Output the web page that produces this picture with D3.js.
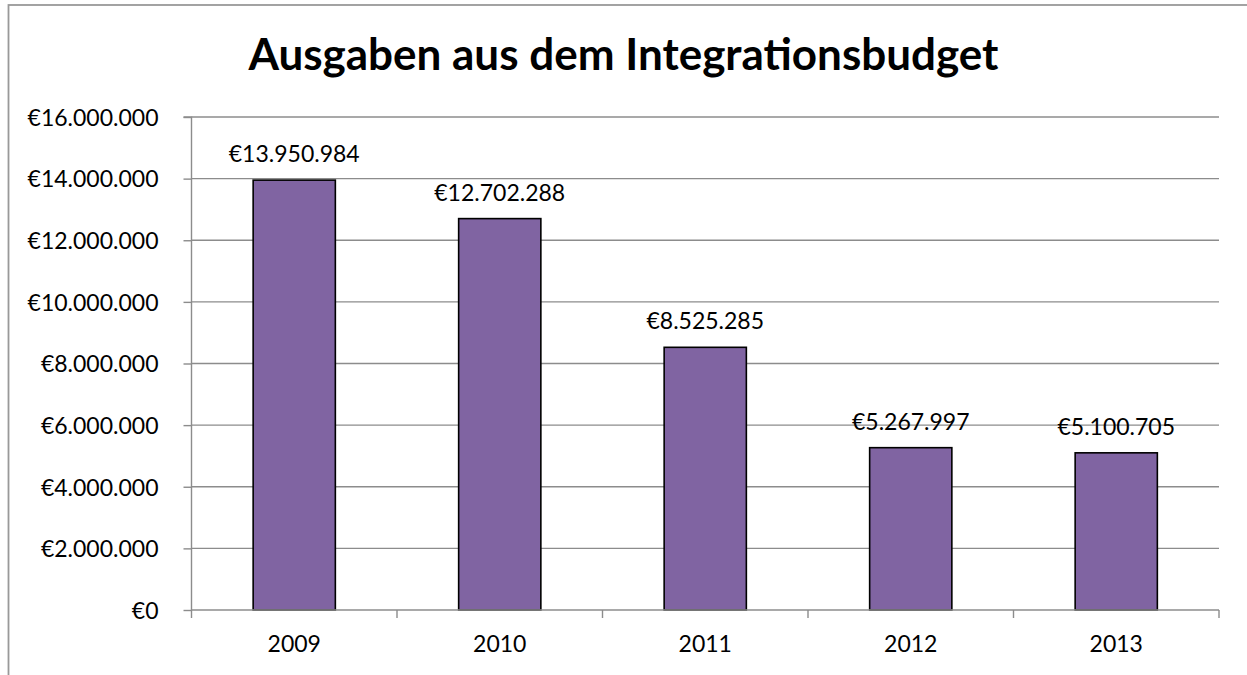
<!DOCTYPE html>
<html>
<head>
<meta charset="utf-8">
<script src="https://cdn.jsdelivr.net/npm/d3@7"></script>
<style>
  html, body { margin: 0; padding: 0; background: #fff; }
  svg { display: block; }
  text { font-family: Lato, "Open Sans", "Noto Sans", sans-serif; fill: #000; }
</style>
</head>
<body>
<svg id="chart" width="1247" height="675"></svg>
<script>
// Annual spending from the integration budget
const years = ["2009", "2010", "2011", "2012", "2013"];
const spending = [13950984, 12702288, 8525285, 5267997, 5100705];
const yTicks = [0, 2000000, 4000000, 6000000, 8000000, 10000000, 12000000, 14000000, 16000000];
const title = "Ausgaben aus dem Integrationsbudget";

const W = 1247, H = 675;
const plot = { left: 191.5, right: 1219, top: 117, bottom: 610 };
const labelSize = 23;

const de = d3.formatLocale({ decimal: ",", thousands: ".", grouping: [3], currency: ["€", ""] });
const euro = de.format("$,.0f");

const svg = d3.select("#chart");

// chart frame
svg.append("rect")
  .attr("x", 8.5).attr("y", 5)
  .attr("width", W + 20).attr("height", H + 20)
  .attr("fill", "#fff")
  .attr("stroke", "#999").attr("stroke-width", 1.8);

const x = d3.scaleBand().domain(years).range([plot.left, plot.right]).padding(0);
const y = d3.scaleLinear().domain([0, 16000000]).range([plot.bottom, plot.top]);

// horizontal gridlines
svg.append("g").selectAll("line")
  .data(yTicks.filter(d => d > 0))
  .join("line")
  .attr("x1", plot.left).attr("x2", plot.right)
  .attr("y1", d => y(d)).attr("y2", d => y(d))
  .attr("stroke", "#8c8c8c").attr("stroke-width", 1.4);

// y axis
const yAxis = d3.axisLeft(y).tickValues(yTicks).tickFormat(euro).tickSize(8).tickPadding(25);
const gy = svg.append("g").attr("transform", `translate(${plot.left},0)`).call(yAxis);
gy.select(".domain").attr("stroke", "#8c8c8c").attr("stroke-width", 1.4).attr("d", `M-8,${plot.top}H0V${plot.bottom}`);
gy.selectAll(".tick line").attr("stroke", "#8c8c8c").attr("stroke-width", 1.4);
gy.selectAll(".tick text").attr("font-size", labelSize).attr("font-family", "Lato, sans-serif").attr("fill", "#000").attr("dy", "0.36em");

// bars
const barW = x.bandwidth() * 0.4;
svg.append("g").selectAll("rect")
  .data(years.map((yr, i) => ({ yr, v: spending[i] })))
  .join("rect")
  .attr("x", d => x(d.yr) + (x.bandwidth() - barW) / 2)
  .attr("y", d => y(d.v))
  .attr("width", barW)
  .attr("height", d => y(0) - y(d.v))
  .attr("fill", "#8064a2")
  .attr("stroke", "#000").attr("stroke-width", 1.6);

// x axis with category boundary ticks
const gx = svg.append("g").attr("transform", `translate(0,${plot.bottom})`);
gx.append("line")
  .attr("x1", plot.left).attr("x2", plot.right)
  .attr("y1", 0).attr("y2", 0)
  .attr("stroke", "#8c8c8c").attr("stroke-width", 1.4);
const bounds = years.map(d => x(d)).concat([plot.right]);
gx.selectAll("line.bound")
  .data(bounds)
  .join("line").attr("class", "bound")
  .attr("x1", d => d).attr("x2", d => d)
  .attr("y1", 0).attr("y2", 8)
  .attr("stroke", "#8c8c8c").attr("stroke-width", 1.4);
gx.selectAll("text")
  .data(years)
  .join("text")
  .attr("x", d => x(d) + x.bandwidth() / 2)
  .attr("y", 42)
  .attr("text-anchor", "middle")
  .attr("font-size", labelSize)
  .text(d => d);

// value labels above bars
svg.append("g").selectAll("text")
  .data(years.map((yr, i) => ({ yr, v: spending[i] })))
  .join("text")
  .attr("x", d => x(d.yr) + x.bandwidth() / 2)
  .attr("y", d => y(d.v) - 18)
  .attr("text-anchor", "middle")
  .attr("font-size", labelSize)
  .text(d => euro(d.v));

// title
svg.append("text")
  .attr("x", 623.5).attr("y", 70)
  .attr("text-anchor", "middle")
  .attr("font-size", 44)
  .attr("font-weight", "bold")
  .text(title);
</script>
</body>
</html>
